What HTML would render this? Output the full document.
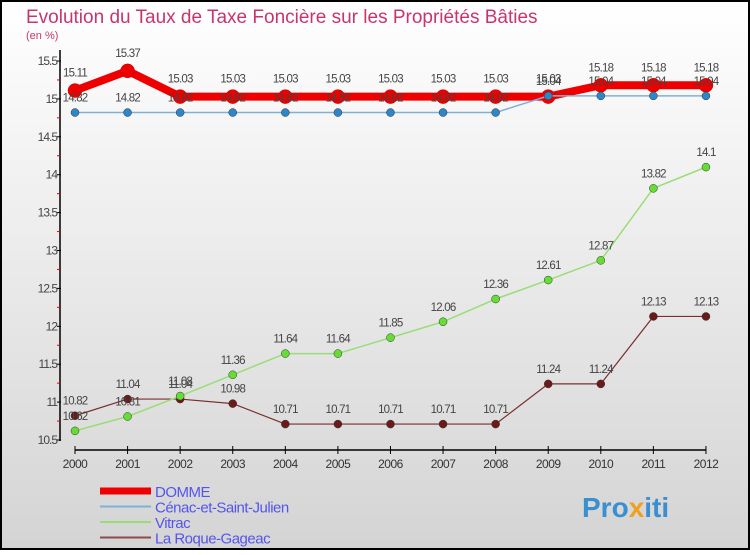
<!DOCTYPE html>
<html><head><meta charset="utf-8"><style>
html,body{margin:0;padding:0}
body{width:750px;height:550px;overflow:hidden;font-family:"Liberation Sans",sans-serif}
</style></head><body>
<svg id="c" width="750" height="550" xmlns="http://www.w3.org/2000/svg">
<defs><linearGradient id="bg" x1="0" y1="0" x2="0" y2="1"><stop offset="0" stop-color="#ffffff"/><stop offset="1" stop-color="#d4d4d4"/></linearGradient></defs>
<rect x="1" y="1" width="748" height="548" fill="url(#bg)" stroke="#000" stroke-width="2"/>
<text x="26" y="23" font-size="19" fill="#c8356e">Evolution du Taux de Taxe Foncière sur les Propriétés Bâties</text>
<text x="26" y="39" font-size="11" fill="#c8356e">(en %)</text>
<g id="axes"></g><g id="series"></g><g id="legend"></g>
<text x="582" y="517" font-size="28" font-weight="bold" fill="#3a8fd0">Pro<tspan fill="#f0a020">x</tspan>iti</text>
</svg>
<script>
const years=["2000","2001","2002","2003","2004","2005","2006","2007","2008","2009","2010","2011","2012"];
const domme=[15.11,15.37,15.03,15.03,15.03,15.03,15.03,15.03,15.03,15.03,15.18,15.18,15.18];
const cenac=[14.82,14.82,14.82,14.82,14.82,14.82,14.82,14.82,14.82,15.04,15.04,15.04,15.04];
const vitrac=[10.62,10.81,11.08,11.36,11.64,11.64,11.85,12.06,12.36,12.61,12.87,13.82,14.1];
const roque=[10.82,11.04,11.04,10.98,10.71,10.71,10.71,10.71,10.71,11.24,11.24,12.13,12.13];
const yTicks=[10.5,11,11.5,12,12.5,13,13.5,14,14.5,15,15.5];
const seriesNames=["DOMME","Cénac-et-Saint-Julien","Vitrac","La Roque-Gageac"];
const NS="http://www.w3.org/2000/svg";
const X=i=>75+i*52.58;
const Y=v=>440-(v-10.5)*75.8;
function mk(p,t,a){const e=document.createElementNS(NS,t);for(const k in a)e.setAttribute(k,a[k]);p.appendChild(e);return e;}
const ax=document.getElementById('axes');
let l=mk(ax,'line',{x1:60,y1:50,x2:60,y2:441,stroke:'#000','stroke-width':1.5});


yTicks.forEach((v,i)=>{
 let t=mk(ax,'line',{x1:57,y1:Y(v),x2:61,y2:Y(v),stroke:'#000'});
 
 
 if(i<yTicks.length-1){let m=mk(ax,'line',{x1:57,y1:Y(v+0.25),x2:60,y2:Y(v+0.25),stroke:'#e00'});
 
 }
 let tx=mk(ax,'text',{x:57,y:Y(v)+4,'font-size':12,fill:'#444','text-anchor':'end','letter-spacing':'-1'});
 tx.textContent=String(v);
 
 
});
l=mk(ax,'line',{x1:75,y1:450,x2:X(12),y2:450,stroke:'#000','stroke-width':1.5});


years.forEach((y,i)=>{
 let t=mk(ax,'line',{x1:X(i),y1:446,x2:X(i),y2:454,stroke:'#000'});
 
 
 let tx=mk(ax,'text',{x:X(i),y:468,'font-size':12,fill:'#333','text-anchor':'middle','letter-spacing':'-0.5'});
 tx.textContent=y;
 
 
});
const sg=document.getElementById('series');
const defs=[[roque,'#6b1a1a','#7a2f2f',1.2,4,'roque'],[vitrac,'#66dd33','#99dd77',1.5,4,'vitrac'],[domme,'#ee0000','#ee0000',8,7,'domme'],[cenac,'#2e86c8','#7fb0d8',1.5,4,'cenac']];
defs.forEach(([d,pc,lc,w,r,n])=>{
 const g=mk(sg,'g',{});
 
 
 const pl=mk(g,'polyline',{points:d.map((v,i)=>X(i)+','+Y(v)).join(' '),fill:'none',stroke:lc,'stroke-width':w,'stroke-linejoin':'round'});
 
 
 d.forEach((v,i)=>{
  const c=mk(g,'circle',{cx:X(i),cy:Y(v),r:r,fill:pc,stroke:n=='domme'?'#c00':'#333','stroke-width':0.5});
  
  
  const t=mk(g,'text',{x:X(i),y:Y(v)-11-(n=='domme'?3:0),'font-size':11.5,fill:'#444','text-anchor':'middle','letter-spacing':'-0.8'});
  t.textContent=String(v);
  
  
 });
});
const lg=document.getElementById('legend');
const lcol=['#ee0000','#7fb0d8','#99dd77','#8a4a4a'],lw=[7,2,2,2];
seriesNames.forEach((s,i)=>{
 const y=491+i*15.5;
 const ln=mk(lg,'line',{x1:100,y1:y,x2:151,y2:y,stroke:lcol[i],'stroke-width':lw[i]});
 
 
 const t=mk(lg,'text',{x:155,y:y+6,'font-size':15,fill:'#5555ee','letter-spacing':'-0.5'});
 t.textContent=s;
 
 
});
</script>
</body></html>
